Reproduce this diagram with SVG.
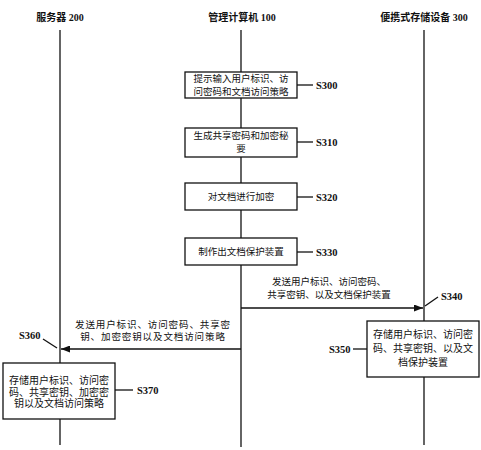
<svg xmlns="http://www.w3.org/2000/svg" width="481" height="450" viewBox="0 0 481 450">
<defs>
<style>
.hd{font-family:"Liberation Serif","Noto Sans CJK SC",serif;font-size:10px;font-weight:bold;fill:#111;text-anchor:middle}
.t{font-family:"Liberation Serif","Noto Sans CJK SC",sans-serif;font-size:9.5px;fill:#111;text-anchor:middle}
.t2{font-size:10px}
.lb{font-family:"Liberation Serif",serif;font-size:10.5px;font-weight:bold;fill:#111}
.ln{stroke:#111;stroke-width:1.3;fill:none}
.bx{stroke:#111;stroke-width:1.3;fill:#fff}
</style>
<marker id="ah" markerWidth="9" markerHeight="7" refX="9" refY="3.5" orient="auto" markerUnits="userSpaceOnUse">
<path d="M0,0 L9,3.5 L0,7 Z" fill="#111"/>
</marker>
</defs>
<rect width="481" height="450" fill="#fff"/>
<g id="headers">
<text class="hd" x="60" y="21">服务器 200</text>
<text class="hd" x="242" y="21">管理计算机 100</text>
<text class="hd" x="424" y="21">便携式存储设备 300</text>
</g>
<g id="connectors">
<line class="ln" x1="60" y1="30" x2="60" y2="445"/>
<line class="ln" x1="241" y1="30" x2="241" y2="447"/>
<line class="ln" x1="424" y1="30" x2="424" y2="445"/>
<line class="ln" x1="241" y1="308" x2="423" y2="308" marker-end="url(#ah)"/>
<line class="ln" x1="241" y1="349" x2="61" y2="349" marker-end="url(#ah)"/>
<line class="ln" x1="297" y1="85" x2="313" y2="85"/>
<line class="ln" x1="297" y1="142" x2="313" y2="142"/>
<line class="ln" x1="297" y1="197" x2="313" y2="197"/>
<line class="ln" x1="297" y1="252" x2="313" y2="252"/>
<line class="ln" x1="425" y1="306" x2="438" y2="297"/>
<line class="ln" x1="353" y1="349" x2="367" y2="349"/>
<line class="ln" x1="43" y1="339" x2="57" y2="348"/>
<line class="ln" x1="115" y1="390" x2="133" y2="390"/>
</g>
<g id="S300">
<rect class="bx" x="185" y="72" width="112" height="26"/>
<text class="t" x="241" y="82">提示输入用户标识、访</text>
<text class="t" x="241" y="95">问密码和文档访问策略</text>
<text class="lb" x="316" y="89">S300</text>
</g>
<g id="S310">
<rect class="bx" x="185" y="128" width="112" height="29"/>
<text class="t" x="241" y="139">生成共享密码和加密秘</text>
<text class="t" x="241" y="152">要</text>
<text class="lb" x="316" y="146">S310</text>
</g>
<g id="S320">
<rect class="bx" x="185" y="183" width="112" height="27"/>
<text class="t" x="241" y="200">对文档进行加密</text>
<text class="lb" x="316" y="201">S320</text>
</g>
<g id="S330">
<rect class="bx" x="185" y="238" width="112" height="27"/>
<text class="t" x="241" y="255">制作出文档保护装置</text>
<text class="lb" x="316" y="256">S330</text>
</g>
<g id="S340">
<text class="t" x="329" y="285">发送用户标识、访问密码、</text>
<text class="t" x="329" y="298">共享密钥、以及文档保护装置</text>
<text class="lb" x="441" y="300">S340</text>
</g>
<g id="S350">
<rect class="bx" x="367" y="321" width="112" height="56"/>
<text class="t t2" x="423" y="338">存储用户标识、访问密</text>
<text class="t t2" x="423" y="352">码、共享密钥、以及文</text>
<text class="t t2" x="423" y="366">档保护装置</text>
<text class="lb" x="329" y="353">S350</text>
</g>
<g id="S360">
<text class="t" x="153" y="328" letter-spacing="0.9">发送用户标识、访问密码、共享密</text>
<text class="t" x="153" y="340" letter-spacing="0.9">钥、加密密钥以及文档访问策略</text>
<text class="lb" x="19" y="339">S360</text>
</g>
<g id="S370">
<rect class="bx" x="3" y="363" width="112" height="56"/>
<text class="t t2" x="59" y="384">存储用户标识、访问密</text>
<text class="t t2" x="59" y="395.5">码、共享密钥、加密密</text>
<text class="t t2" x="59" y="407">钥以及文档访问策略</text>
<text class="lb" x="137" y="394">S370</text>
</g>
</svg>
